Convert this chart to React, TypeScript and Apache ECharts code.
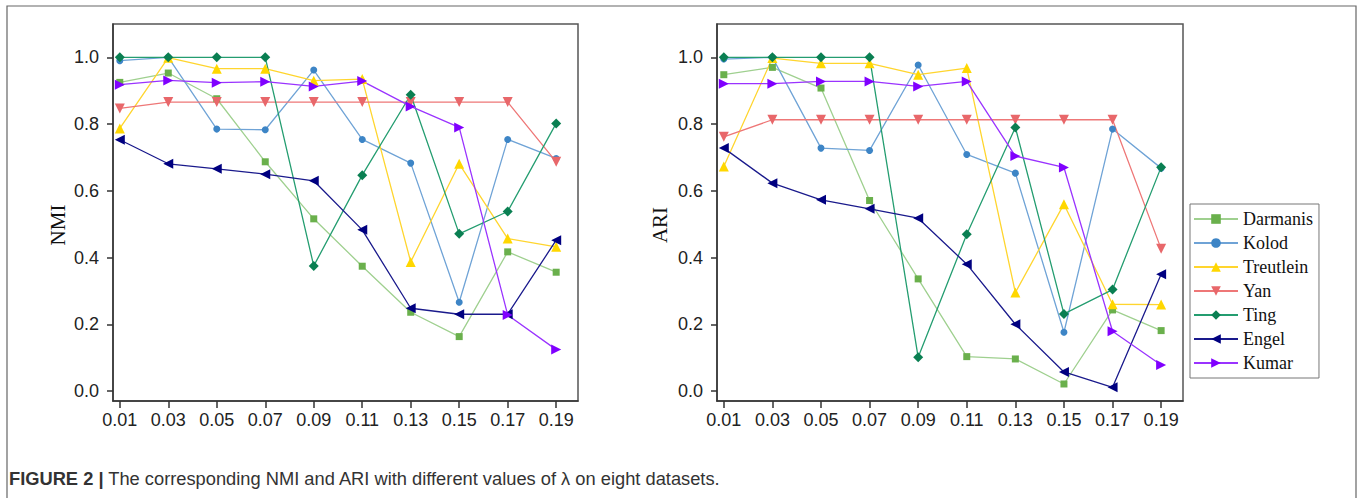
import React, { useEffect, useRef } from "react";
import * as echarts from "echarts";

const lambdas = [0.01, 0.03, 0.05, 0.07, 0.09, 0.11, 0.13, 0.15, 0.17, 0.19];
const yTicks = [0, 0.2, 0.4, 0.6, 0.8, 1.0];
const seriesNames = ["Darmanis", "Kolod", "Treutlein", "Yan", "Ting", "Engel", "Kumar"];

const nmiDarmanis = [0.925, 0.953, 0.876, 0.687, 0.516, 0.374, 0.236, 0.163, 0.417, 0.356];
const nmiKolod = [0.99, 1.0, 0.785, 0.783, 0.962, 0.754, 0.683, 0.266, 0.754, 0.697];
const nmiTreutlein = [0.787, 0.999, 0.966, 0.966, 0.93, 0.935, 0.387, 0.681, 0.457, 0.432];
const nmiYan = [0.847, 0.866, 0.866, 0.866, 0.866, 0.866, 0.866, 0.866, 0.866, 0.687];
const nmiTing = [1.0, 1.0, 1.0, 1.0, 0.375, 0.647, 0.888, 0.471, 0.538, 0.802];
const nmiEngel = [0.753, 0.681, 0.666, 0.65, 0.63, 0.483, 0.248, 0.23, 0.23, 0.452];
const nmiKumar = [0.918, 0.931, 0.924, 0.927, 0.913, 0.929, 0.853, 0.79, 0.228, 0.124];

const ariDarmanis = [0.948, 0.97, 0.908, 0.571, 0.336, 0.103, 0.096, 0.021, 0.243, 0.181];
const ariKolod = [0.995, 1.0, 0.728, 0.721, 0.977, 0.709, 0.653, 0.176, 0.785, 0.668];
const ariTreutlein = [0.673, 0.998, 0.982, 0.982, 0.948, 0.968, 0.295, 0.56, 0.26, 0.259];
const ariYan = [0.762, 0.813, 0.813, 0.813, 0.813, 0.813, 0.813, 0.813, 0.813, 0.426];
const ariTing = [1.0, 1.0, 1.0, 1.0, 0.101, 0.47, 0.79, 0.231, 0.304, 0.671];
const ariEngel = [0.728, 0.623, 0.573, 0.546, 0.518, 0.38, 0.2, 0.057, 0.011, 0.35];
const ariKumar = [0.921, 0.921, 0.928, 0.928, 0.913, 0.928, 0.704, 0.67, 0.179, 0.078];

const nmiData = [nmiDarmanis, nmiKolod, nmiTreutlein, nmiYan, nmiTing, nmiEngel, nmiKumar];
const ariData = [ariDarmanis, ariKolod, ariTreutlein, ariYan, ariTing, ariEngel, ariKumar];

const styles = [
  { line: "#9fd08f", marker: "#6ab04c", symbol: "rect", size: 7, rotate: 0 },
  { line: "#6fa3d6", marker: "#3d85c6", symbol: "circle", size: 7, rotate: 0 },
  { line: "#ffd52e", marker: "#ffd700", symbol: "triangle", size: 10, rotate: 0 },
  { line: "#ee7777", marker: "#e8676a", symbol: "triangle", size: 10, rotate: 180 },
  { line: "#249d70", marker: "#0a7f52", symbol: "diamond", size: 10, rotate: 0 },
  { line: "#1a1a8c", marker: "#000080", symbol: "triangle", size: 10, rotate: 90 },
  { line: "#9a33ff", marker: "#8000ff", symbol: "triangle", size: 10, rotate: -90 },
];

const SERIF = "Liberation Serif";
const SANS = "Liberation Sans";

export default function App() {
  const ref = useRef<HTMLDivElement>(null);
  useEffect(() => {
    if (!ref.current) return;
    const chart = echarts.init(ref.current, null, { renderer: "svg" });
    const axisLabelFont = { fontFamily: SANS, fontSize: 18, color: "#222" };
    const mkX = (gi: number) => ({
      type: "value",
      gridIndex: gi,
      min: 0.0072,
      max: 0.199,
      axisLine: { show: true, onZero: false, lineStyle: { color: "#333", width: 1.5 } },
      axisTick: { show: true, length: 7, customValues: lambdas, lineStyle: { color: "#333", width: 1.5 } },
      axisLabel: { ...axisLabelFont, margin: 10, customValues: lambdas, formatter: (v: number) => v.toFixed(2) },
      splitLine: { show: false },
    });
    const mkY = (gi: number) => ({
      type: "value",
      gridIndex: gi,
      min: -0.03,
      max: 1.1,
      axisLine: { show: true, onZero: false, lineStyle: { color: "#333", width: 1.5 } },
      axisTick: { show: true, length: 6, customValues: yTicks, lineStyle: { color: "#333", width: 1.5 } },
      axisLabel: { ...axisLabelFont, margin: 14, customValues: yTicks, formatter: (v: number) => v.toFixed(1) },
      splitLine: { show: false },
    });
    const mkSeries = (data: number[][], gi: number) =>
      data.map((vals, i) => ({
        name: seriesNames[i],
        type: "line",
        xAxisIndex: gi,
        yAxisIndex: gi,
        data: vals.map((v, j) => [lambdas[j], v]),
        symbol: styles[i].symbol,
        symbolSize: styles[i].size,
        symbolRotate: styles[i].rotate,
        showAllSymbol: true,
        lineStyle: { color: styles[i].line, width: 1.3 },
        itemStyle: { color: styles[i].marker, borderWidth: 0 },
        emphasis: { disabled: true },
      }));
    chart.setOption({
      animation: false,
      textStyle: { fontFamily: SERIF },
      grid: [
        { left: 113, right: 782, top: 24, bottom: 97, show: true, borderColor: "#555", borderWidth: 1.5 },
        { left: 717, right: 177, top: 24, bottom: 97, show: true, borderColor: "#555", borderWidth: 1.5 },
      ],
      xAxis: [mkX(0), mkX(1)],
      yAxis: [mkY(0), mkY(1)],
      legend: {
        data: seriesNames,
        orient: "vertical",
        left: 1190,
        top: 204,
        padding: [6, 6, 6, 3],
        itemWidth: 44,
        itemHeight: 12,
        itemGap: 6,
        borderColor: "#777",
        borderWidth: 1,
        formatter: "{s|{name}}",
        textStyle: {
          fontFamily: SERIF,
          fontSize: 18,
          lineHeight: 17,
          color: "#111",
          rich: { s: { fontFamily: SERIF, fontSize: 18, lineHeight: 17, color: "#111" } },
        },
        symbolRotate: "inherit",
      },
      graphic: [
        {
          type: "rect",
          shape: { x: 7, y: 6, width: 1349, height: 520 },
          style: { fill: "none", stroke: "#666", lineWidth: 1.2 },
          silent: true,
        },
        {
          type: "text",
          x: 58,
          y: 225,
          rotation: Math.PI / 2,
          style: { text: "NMI", fontFamily: SERIF, fontSize: 21, fill: "#111", align: "center", verticalAlign: "middle" },
        },
        {
          type: "text",
          x: 660,
          y: 225,
          rotation: Math.PI / 2,
          style: { text: "ARI", fontFamily: SERIF, fontSize: 21, fill: "#111", align: "center", verticalAlign: "middle" },
        },
        {
          type: "text",
          x: 9,
          y: 478,
          style: {
            text: "{b|FIGURE 2 |} The corresponding NMI and ARI with different values of λ on eight datasets.",
            verticalAlign: "middle",
            fontFamily: SANS,
            fontSize: 18.3,
            fill: "#333",
            rich: {
              b: { fontFamily: SANS, fontSize: 18.3, fontWeight: "bold", fill: "#333" },
            },
          },
        },
      ],
      series: [...mkSeries(nmiData, 0), ...mkSeries(ariData, 1)],
    });
    return () => chart.dispose();
  }, []);
  return <div ref={ref} style={{ position: "fixed", left: 0, top: 0, width: 1360, height: 498, background: "#fff" }} />;
}
